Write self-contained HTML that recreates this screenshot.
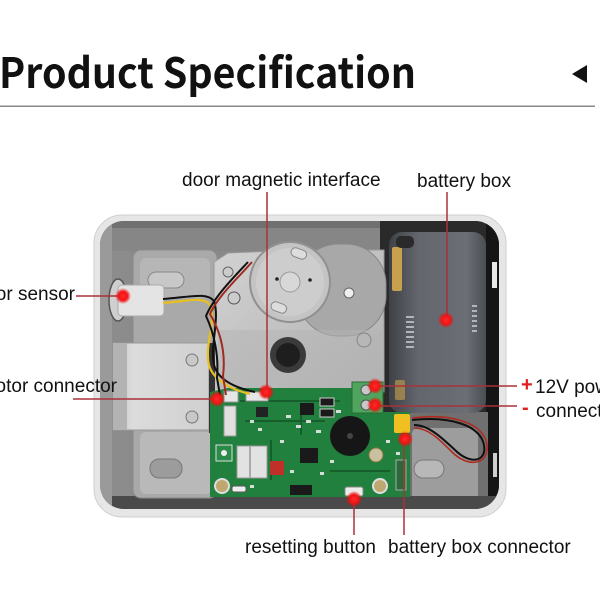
<!DOCTYPE html>
<html><head><meta charset="utf-8"><style>
html,body{margin:0;padding:0;background:#fff;}
svg{display:block;}
.lbl{font-family:"Liberation Sans",Arial,sans-serif;font-size:19px;fill:#111;}
</style></head><body>
<svg width="600" height="600" viewBox="0 0 600 600" xmlns="http://www.w3.org/2000/svg">
<defs>
  <radialGradient id="dot" cx="50%" cy="50%" r="50%">
    <stop offset="0" stop-color="#ff2a2a"/>
    <stop offset="0.55" stop-color="#ee1515"/>
    <stop offset="1" stop-color="#ff0000" stop-opacity="0"/>
  </radialGradient>
  <linearGradient id="inner" x1="0" y1="0" x2="1" y2="0">
    <stop offset="0" stop-color="#8c8c8c"/>
    <stop offset="0.5" stop-color="#878787"/>
    <stop offset="1" stop-color="#5a5a5a"/>
  </linearGradient>
  <linearGradient id="gear" x1="0" y1="0" x2="1" y2="1">
    <stop offset="0" stop-color="#d2d2d2"/>
    <stop offset="1" stop-color="#b0b0b0"/>
  </linearGradient>
  <linearGradient id="batt" x1="0" y1="0" x2="1" y2="0">
    <stop offset="0" stop-color="#3e4146"/>
    <stop offset="0.3" stop-color="#63676d"/>
    <stop offset="0.8" stop-color="#6b6f75"/>
    <stop offset="1" stop-color="#4a4d52"/>
  </linearGradient>
  <linearGradient id="latch" x1="0" y1="0" x2="1" y2="0">
    <stop offset="0" stop-color="#bdbdbd"/>
    <stop offset="0.2" stop-color="#dcdcdc"/>
    <stop offset="1" stop-color="#d0d0d0"/>
  </linearGradient>
  <clipPath id="box"><rect x="100" y="221" width="399" height="288" rx="24"/></clipPath>
</defs>

<!-- Title -->
<text x="-1" y="88" font-family="'Noto Sans CJK SC','Liberation Sans',sans-serif" font-weight="700" font-size="42" fill="#111" textLength="417" lengthAdjust="spacingAndGlyphs">Product Specification</text>
<polygon points="572,74 587,65 587,83" fill="#111"/>
<rect x="0" y="105.5" width="595" height="1.5" fill="#8a8a8a"/>

<!-- Frame -->
<rect x="94" y="215" width="412" height="302" rx="28" fill="#e6e6e6" stroke="#cfcfcf" stroke-width="1"/>
<rect x="100" y="221" width="399" height="288" rx="24" fill="url(#inner)"/>

<g clip-path="url(#box)">
  <!-- top wall -->
  <rect x="100" y="221" width="400" height="30" fill="#868686"/>
  <rect x="100" y="221" width="400" height="7" fill="#707070"/>
  <!-- dark right area -->
  <rect x="380" y="221" width="120" height="200" fill="#2a2a2a"/>
  <rect x="486" y="221" width="14" height="290" fill="#151515"/>
  <!-- lower right plate -->
  <rect x="410" y="412" width="78" height="100" fill="#707070"/>
  <rect x="412" y="428" width="66" height="76" rx="6" fill="#9d9d9d"/>
  <rect x="414" y="460" width="30" height="18" rx="9" fill="#b8b8b8" stroke="#777"/>
  <!-- right wall marks -->
  <rect x="492" y="262" width="5" height="26" fill="#e8e8e8"/>
  <rect x="493" y="453" width="4" height="24" fill="#cfcfcf"/>
  <!-- bottom dark -->
  <rect x="100" y="496" width="400" height="15" fill="#4a4a4a"/>
  <!-- left wall -->
  <rect x="100" y="221" width="12" height="290" fill="#9a9a9a"/>
  <!-- left plate -->
  <rect x="133" y="250" width="84" height="248" rx="8" fill="#a9a9a9" stroke="#8a8a8a"/>
  <rect x="140" y="258" width="70" height="40" rx="6" fill="#b6b6b6"/>
  <rect x="148" y="272" width="36" height="16" rx="8" fill="#c8c8c8" stroke="#888"/>
  <rect x="140" y="432" width="72" height="62" rx="6" fill="#b9b9b9"/>
  <rect x="150" y="459" width="32" height="19" rx="9" fill="#9c9c9c" stroke="#777"/>
  <!-- gearbox -->
  <polygon points="214,262 228,253 300,250 384,250 384,392 214,392" fill="url(#gear)" stroke="#999"/>
  <rect x="298" y="244" width="88" height="92" rx="40" fill="#a8a8a8" stroke="#888"/>
  <circle cx="349" cy="293" r="5" fill="#eee" stroke="#666"/>
  <circle cx="364" cy="340" r="7" fill="#bbb" stroke="#555"/>
  <circle cx="228" cy="272" r="5" fill="#ccc" stroke="#666"/>
  <circle cx="234" cy="298" r="6" fill="#ccc" stroke="#555"/>
  <rect x="218" y="330" width="166" height="62" fill="#b4b4b4" opacity="0.5"/>
  <!-- motor disc -->
  <circle cx="290" cy="282" r="40" fill="#c4c4c4" stroke="#909090" stroke-width="2"/>
  <circle cx="290" cy="282" r="34" fill="#cdcdcd"/>
  <circle cx="290" cy="282" r="10" fill="#d8d8d8" stroke="#999"/>
  <rect x="291" y="249" width="16" height="9" rx="4.5" fill="#ddd" stroke="#888" transform="rotate(20 299 253)"/>
  <rect x="271" y="303" width="16" height="9" rx="4.5" fill="#ddd" stroke="#888" transform="rotate(20 279 307)"/>
  <circle cx="277" cy="279" r="1.8" fill="#222"/>
  <circle cx="310" cy="280" r="1.8" fill="#222"/>
  <!-- shaft -->
  <circle cx="288" cy="355" r="18" fill="#3a3a3a"/>
  <circle cx="288" cy="355" r="12" fill="#1e1e1e"/>
  <!-- battery -->
  <rect x="389" y="232" width="97" height="181" rx="13" fill="url(#batt)"/>
  <rect x="392" y="247" width="10" height="44" rx="2" fill="#c7a14d"/>
  <rect x="396" y="236" width="18" height="12" rx="5" fill="#2a2a2a"/>
  <rect x="395" y="380" width="10" height="20" rx="2" fill="#b8964a" opacity="0.7"/>
  <g fill="#c8ccd2" opacity="0.8">
    <rect x="406" y="316" width="8" height="2"/><rect x="406" y="321" width="8" height="2"/><rect x="406" y="326" width="8" height="2"/><rect x="406" y="331" width="8" height="2"/><rect x="406" y="336" width="8" height="2"/><rect x="406" y="341" width="8" height="2"/><rect x="406" y="346" width="8" height="2"/>
    <rect x="472" y="305" width="5" height="2"/><rect x="472" y="310" width="5" height="2"/><rect x="472" y="315" width="5" height="2"/><rect x="472" y="320" width="5" height="2"/><rect x="472" y="325" width="5" height="2"/><rect x="472" y="330" width="5" height="2"/>
  </g>
  <!-- latch block -->
  <rect x="113" y="343" width="96" height="87" fill="url(#latch)" stroke="#999"/>
  <rect x="113" y="343" width="14" height="87" fill="#b3b3b3"/>
  <circle cx="192" cy="360" r="6" fill="#c8c8c8" stroke="#777"/>
  <circle cx="192" cy="417" r="6" fill="#c8c8c8" stroke="#777"/>
  <rect x="209" y="343" width="6" height="90" fill="#333"/>
  <!-- sensor -->
  <ellipse cx="118" cy="300" rx="9" ry="21" fill="#cfcfcf" stroke="#555" stroke-width="1.5"/>
  <rect x="118" y="285" width="46" height="31" rx="4" fill="#e4e4e4" stroke="#aaa"/>
  <!-- PCB -->
  <path d="M210,392 L228,388 L355,388 L355,412 L410,412 L410,497 L210,497 Z" fill="#22803e"/>
  <g fill="#0f4a22" opacity="0.6">
    <rect x="240" y="400" width="100" height="2"/><rect x="245" y="420" width="80" height="2"/><rect x="270" y="440" width="2" height="40"/><rect x="300" y="405" width="2" height="30"/><rect x="330" y="470" width="60" height="2"/>
  </g>
  <g fill="#e8e8e8" opacity="0.9">
    <rect x="250" y="420" width="4" height="3"/><rect x="258" y="428" width="4" height="3"/><rect x="286" y="415" width="5" height="3"/><rect x="296" y="425" width="5" height="3"/><rect x="306" y="420" width="5" height="3"/><rect x="316" y="430" width="5" height="3"/><rect x="322" y="410" width="5" height="3"/><rect x="336" y="410" width="5" height="3"/>
    <rect x="280" y="440" width="4" height="3"/><rect x="290" y="470" width="4" height="3"/><rect x="320" y="472" width="4" height="3"/><rect x="330" y="460" width="4" height="3"/><rect x="386" y="440" width="4" height="3"/><rect x="396" y="452" width="4" height="3"/><rect x="250" y="485" width="4" height="3"/>
  </g>
  <!-- components -->
  <rect x="300" y="448" width="18" height="15" fill="#1a1a1a"/>
  <rect x="300" y="403" width="14" height="12" fill="#1a1a1a"/>
  <rect x="256" y="407" width="12" height="10" fill="#222"/>
  <rect x="320" y="398" width="14" height="8" fill="#1a1a1a" stroke="#ccc"/>
  <rect x="320" y="409" width="14" height="8" fill="#1a1a1a" stroke="#ccc"/>
  <rect x="290" y="485" width="22" height="10" fill="#1a1a1a"/>
  <rect x="224" y="406" width="12" height="30" fill="#e0e0e0" stroke="#999"/>
  <rect x="237" y="446" width="30" height="32" fill="#e2e2e2" stroke="#999"/>
  <rect x="249" y="446" width="2" height="32" fill="#aaa"/>
  <rect x="270" y="461" width="14" height="14" fill="#c0302b"/>
  <rect x="216" y="445" width="16" height="16" fill="#2a8a48" stroke="#ddd"/>
  <circle cx="224" cy="453" r="3" fill="#eee"/>
  <rect x="232" y="486" width="14" height="6" rx="2" fill="#eee" stroke="#555"/>
  <circle cx="222" cy="486" r="7" fill="#bfa870" stroke="#ddd" stroke-width="2"/>
  <circle cx="380" cy="486" r="7" fill="#bfa870" stroke="#ddd" stroke-width="2"/>
  <rect x="224" y="391" width="14" height="11" fill="#e6e6e6" stroke="#999"/>
  <rect x="246" y="392" width="22" height="9" fill="#e6e6e6" stroke="#999"/>
  <!-- buzzer -->
  <circle cx="350" cy="436" r="20" fill="#161616"/>
  <circle cx="350" cy="436" r="3" fill="#444"/>
  <circle cx="376" cy="455" r="7" fill="#c8c0a0" stroke="#8a7a3a"/>
  <!-- reset button -->
  <rect x="345" y="487" width="18" height="9" rx="2" fill="#ececec" stroke="#888"/>
  <!-- right side header -->
  <rect x="396" y="460" width="10" height="30" fill="#2a6a3a" stroke="#aaa"/>
  <!-- yellow connector -->
  <rect x="394" y="414" width="16" height="19" rx="2" fill="#f0c020"/>
  <!-- terminal block -->
  <rect x="352" y="382" width="31" height="31" fill="#4fa55e" stroke="#2a6a35"/>
  <circle cx="366" cy="390" r="5" fill="#c8c8c8" stroke="#555"/>
  <circle cx="366" cy="405" r="5" fill="#c8c8c8" stroke="#555"/>
  <!-- wires -->
  <path d="M163,303 C190,301 203,296 210,305 C217,320 204,345 209,365 C213,380 232,390 250,394" fill="none" stroke="#e8c020" stroke-width="2.2"/>
  <path d="M163,299 C190,297 207,292 214,301 C220,318 210,345 214,365 C218,380 236,388 255,392" fill="none" stroke="#111" stroke-width="2"/>
  <path d="M248,262 C233,278 214,297 206,316 C214,333 219,355 217,378 L220,395" fill="none" stroke="#111" stroke-width="2"/>
  <path d="M252,262 C238,278 218,296 210,314 C220,331 226,352 223,376 L226,395" fill="none" stroke="#a02a20" stroke-width="2"/>
  <path d="M412,420 C450,416 480,425 484,445 C487,462 470,465 455,450 C440,436 428,425 414,425" fill="none" stroke="#111" stroke-width="2"/>
  <path d="M412,418 C452,413 484,423 487,445 C489,465 468,468 452,452 C438,438 428,428 414,428" fill="none" stroke="#b02a20" stroke-width="1.6"/>
</g>

<!-- leader lines -->
<g stroke="#a8323a" stroke-width="1.5" fill="none">
  <line x1="267" y1="192" x2="267" y2="392"/>
  <line x1="447" y1="192" x2="447" y2="320"/>
  <line x1="76" y1="296" x2="123" y2="296"/>
  <line x1="73" y1="399" x2="217" y2="399"/>
  <line x1="375" y1="386" x2="517" y2="386"/>
  <line x1="375" y1="406" x2="517" y2="406"/>
  <line x1="354" y1="499" x2="354" y2="535"/>
  <line x1="404" y1="439" x2="404" y2="535"/>
</g>
<!-- dots -->
<g fill="url(#dot)">
  <circle cx="123" cy="296" r="8"/>
  <circle cx="217" cy="399" r="8"/>
  <circle cx="266" cy="392" r="8"/>
  <circle cx="446" cy="320" r="8"/>
  <circle cx="375" cy="386" r="8"/>
  <circle cx="375" cy="405" r="8"/>
  <circle cx="405" cy="439" r="8"/>
  <circle cx="354" cy="499" r="8"/>
</g>

<!-- labels -->
<text class="lbl" x="182" y="186">door magnetic interface</text>
<text class="lbl" x="417" y="187">battery box</text>
<text class="lbl" x="75" y="300" text-anchor="end">or sensor</text>
<text class="lbl" x="117" y="392" text-anchor="end">otor connector</text>
<text x="521" y="391" font-family="'Liberation Sans',Arial,sans-serif" font-size="20" font-weight="700" fill="#e02020">+</text>
<text class="lbl" x="535" y="393">12V power</text>
<text x="522" y="414" font-family="'Liberation Sans',Arial,sans-serif" font-size="20" font-weight="700" fill="#e02020">-</text>
<text class="lbl" x="536" y="417">connector</text>
<text class="lbl" x="245" y="553">resetting button</text>
<text class="lbl" x="388" y="553">battery box connector</text>
</svg>
</body></html>
